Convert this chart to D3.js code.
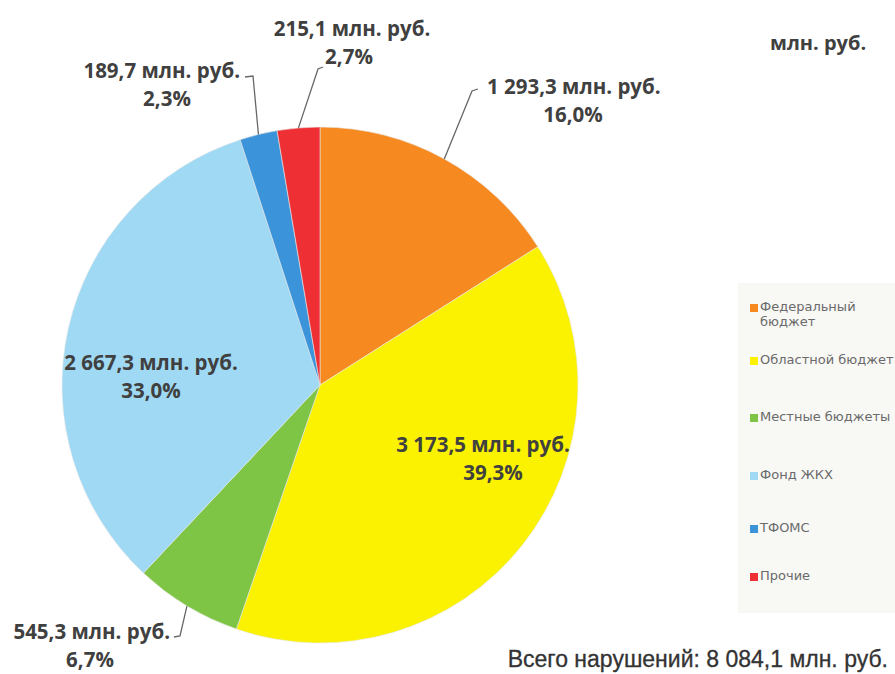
<!DOCTYPE html>
<html>
<head>
<meta charset="utf-8">
<script src="https://cdn.jsdelivr.net/npm/d3@7"></script>
<style>
  body { margin: 0; background: #fff; }
  svg { display: block; }
</style>
</head>
<body>
<div id="chart"></div>
<script>
// chart size
const width = 895;
const height = 674;
const radius = 258;
const cx = 320, cy = 385;

// data
const categories = ["Федеральный бюджет", "Областной бюджет", "Местные бюджеты", "Фонд ЖКХ", "ТФОМС", "Прочие"];
const values = [1293.3, 3173.5, 545.3, 2667.3, 189.7, 215.1];
const totalText = "Всего нарушений: 8 084,1 млн. руб.";
const unitText = "млн. руб.";
const colors = ["#F6891F", "#FAF200", "#7FC545", "#9FD9F3", "#3B93DA", "#EE3035"];

// label layout per slice
const labelLayout = [
  { x: 487, y: 94, anchor: "start", elbow: [472, 91], tick: 6, line2x: 573 },
  { x: 483, y: 452, anchor: "middle", inside: true, line2x: 493 },
  { x: 170, y: 639, anchor: "end", elbow: [180, 636], tick: -6, line2x: 90 },
  { x: 151, y: 370, anchor: "middle", inside: true, line2x: 151 },
  { x: 240, y: 78, anchor: "end", elbow: [253, 76], tick: -8, line2x: 167 },
  { x: 352, y: 36, anchor: "middle", elbow: [318, 69], tick: 5, line2x: 349 }
];

const locale = d3.formatLocale({ decimal: ",", thousands: "\u00a0", grouping: [3] });
const fmtVal = locale.format(",.1f");
const fmtPct = locale.format(".1f");
const sum = d3.sum(values);

const svg = d3.select("#chart")
  .append("svg")
  .attr("width", width)
  .attr("height", height);

// pie
const pie = d3.pie()
  .value(function(d) { return d; })
  .sort(null);

const arc = d3.arc()
  .innerRadius(0)
  .outerRadius(radius);

// arc used to find the point on the rim for leader lines
const rimArc = d3.arc()
  .innerRadius(radius)
  .outerRadius(radius);

const arcs = pie(values);

const g = svg.append("g")
  .attr("transform", "translate(" + cx + "," + cy + ")");

g.selectAll("path")
  .data(arcs)
  .enter()
  .append("path")
  .attr("d", arc)
  .attr("fill", function(d, i) { return colors[i]; })
  .attr("stroke", "#e8e8e8")
  .style("stroke-width", "0.6px");

// leader lines for outside labels
arcs.forEach(function(d, i) {
  const L = labelLayout[i];
  if (L.inside) return;
  const p = rimArc.centroid(d);
  const x0 = p[0] + cx, y0 = p[1] + cy;
  svg.append("path")
    .attr("d", "M" + x0 + "," + y0 + "L" + L.elbow[0] + "," + L.elbow[1] + "l" + L.tick + "," + (L.tick > 0 ? -2 : 1))
    .attr("fill", "none")
    .attr("stroke", "#666")
    .style("stroke-width", "1.3px");
});

// labels
arcs.forEach(function(d, i) {
  const L = labelLayout[i];
  const t = svg.append("text")
    .attr("font-family", "'Open Sans', Lato, sans-serif")
    .attr("font-weight", "bold")
    .attr("font-size", 20.5)
    .attr("fill", "#404040");
  t.append("tspan")
    .attr("x", L.x)
    .attr("y", L.y)
    .attr("text-anchor", L.anchor)
    .text(fmtVal(values[i]) + " млн. руб.");
  t.append("tspan")
    .attr("x", L.line2x)
    .attr("y", L.y + 28)
    .attr("text-anchor", "middle")
    .text(fmtPct(values[i] / sum * 100) + "%");
});

// unit caption top right
svg.append("text")
  .attr("x", 770)
  .attr("y", 50)
  .attr("font-family", "'Open Sans', sans-serif")
  .attr("font-weight", "bold")
  .attr("font-size", 20)
  .attr("fill", "#404040")
  .text(unitText);

// legend box
svg.append("rect")
  .attr("x", 738)
  .attr("y", 283)
  .attr("width", 160)
  .attr("height", 330)
  .attr("fill", "#f8f8f5");

const legendY = [311, 364, 421, 479, 532, 580];

const legend = svg.selectAll(".legend")
  .data(categories)
  .enter()
  .append("g")
  .attr("class", "legend")
  .attr("transform", function(d, i) { return "translate(750," + legendY[i] + ")"; });

legend.append("rect")
  .attr("x", 0)
  .attr("y", -7)
  .attr("width", 8)
  .attr("height", 8)
  .style("fill", function(d, i) { return colors[i]; });

legend.append("text")
  .attr("x", 10)
  .attr("y", 0)
  .attr("font-family", "'DejaVu Sans', sans-serif")
  .attr("font-size", 13)
  .attr("fill", "#6a6a6a")
  .each(function(d, i) {
    const el = d3.select(this);
    if (i === 0) {
      el.append("tspan").attr("x", 10).attr("y", 0).text("Федеральный");
      el.append("tspan").attr("x", 10).attr("y", 15).text("бюджет");
    } else {
      el.text(d);
    }
  });

// total caption
svg.append("text")
  .attr("x", 888)
  .attr("y", 667)
  .attr("text-anchor", "end")
  .attr("font-family", "'Liberation Sans', Arial, sans-serif")
  .attr("font-size", 23)
  .attr("fill", "#333")
  .attr("stroke", "#333")
  .style("stroke-width", "0.3px")
  .text(totalText);
</script>
</body>
</html>
